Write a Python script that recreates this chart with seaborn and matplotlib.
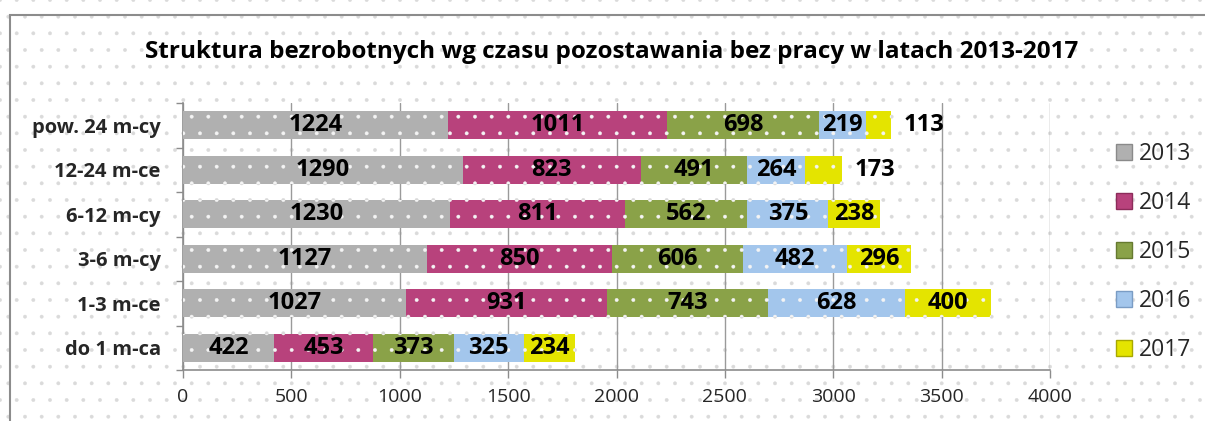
import numpy as np
import pandas as pd
import matplotlib
matplotlib.use("Agg")
import matplotlib.pyplot as plt
import seaborn as sns
from matplotlib.patches import Rectangle, Patch

# ---- data ----
title = "Struktura bezrobotnych wg czasu pozostawania bez pracy w latach 2013-2017"
categories = ["pow. 24 m-cy", "12-24 m-ce", "6-12 m-cy", "3-6 m-cy", "1-3 m-ce", "do 1 m-ca"]
years = ["2013", "2014", "2015", "2016", "2017"]
v2013 = [1224, 1290, 1230, 1127, 1027, 422]
v2014 = [1011, 823, 811, 850, 931, 453]
v2015 = [698, 491, 562, 606, 743, 373]
v2016 = [219, 264, 375, 482, 628, 325]
v2017 = [113, 173, 238, 296, 400, 234]
x_ticks = [0, 500, 1000, 1500, 2000, 2500, 3000, 3500, 4000]

series = [v2013, v2014, v2015, v2016, v2017]
colors = ["#b0b0b0", "#b8427c", "#8aa248", "#a3c6ec", "#e4e400"]
edge_colors = ["#8a8a8a", "#8c2c5a", "#667a30", "#7a9cc4", "#a8a800"]

sns.set_theme(style="white")
plt.rcParams["font.family"] = ["Open Sans", "DejaVu Sans"]
plt.rcParams["hatch.linewidth"] = 0.3

W, H = 1205, 421
fig = plt.figure(figsize=(W / 100, H / 100), dpi=100)

# dotted background
bg = Rectangle((0, 0), 1, 1, transform=fig.transFigure, facecolor="white",
               edgecolor="#dadada", linewidth=0, hatch=".", zorder=-10)
fig.patches.append(bg)
# outer frame
frame = Rectangle((10 / W, -0.2), 1.3, 1.2 - 15 / H, transform=fig.transFigure,
                  fill=False, edgecolor="#8c8c8c", linewidth=1.5, zorder=-5)
fig.patches.append(frame)

ax = fig.add_axes([183 / W, 1 - 370 / H, (1050 - 183) / W, (370 - 103) / H])
ax.set_facecolor("none")

left = np.zeros(len(categories))
for yr, vals, col in zip(years, series, colors):
    df = pd.DataFrame({"cat": categories, "val": vals})
    sns.barplot(data=df, x="val", y="cat", order=categories, orient="y",
                left=left.copy(), color=col, saturation=1, width=0.63,
                errorbar=None, ax=ax, zorder=3)
    left += np.array(vals)

for cont, ec in zip(ax.containers, edge_colors):
    for p in cont.patches:
        p.set_hatch(".")
        p.set_edgecolor("#f4f4f4")
        p.set_linewidth(0)

lab_kw = dict(fontsize=17, fontweight="bold", color="black")
for i, (cont, vals) in enumerate(zip(ax.containers, series)):
    inside = [str(v) if v >= 200 else "" for v in vals]
    outside = [str(v) if v < 200 else "" for v in vals]
    ax.bar_label(cont, labels=inside, label_type="center", **lab_kw)
    if any(outside):
        ax.bar_label(cont, labels=outside, label_type="edge", padding=9, **lab_kw)

ax.set_xlim(0, 4000)
ax.set_xticks(x_ticks)
ax.set_xticklabels([str(t) for t in x_ticks])
ax.set_ylim(5.5, -0.5)
ax.set_xlabel("")
ax.set_ylabel("")
ax.grid(axis="x", color="#9a9a9a", linewidth=1, zorder=0)
ax.grid(axis="y", visible=False)
ax.set_axisbelow(True)

for s in ["top", "right"]:
    ax.spines[s].set_visible(False)
for s in ["left", "bottom"]:
    ax.spines[s].set_color("#8c8c8c")
    ax.spines[s].set_linewidth(1.2)

ax.tick_params(axis="x", which="major", bottom=True, length=6, width=1,
               color="#8c8c8c", labelsize=14, pad=7)
ax.set_yticks(np.arange(-0.5, 6, 1), minor=True)
ax.tick_params(axis="y", which="minor", left=True, length=5, width=1, color="#8c8c8c")
ax.tick_params(axis="y", which="major", left=False, length=0, labelsize=14.5, pad=16)
for t in ax.get_yticklabels():
    t.set_fontweight("bold")

fig.text(612 / W, 1 - 52 / H, title, ha="center", va="center",
         fontsize=17.5, fontweight="bold", color="black")

handles = [Patch(facecolor=c, edgecolor=e, linewidth=1) for c, e in zip(colors, edge_colors)]
fig.legend(handles, years, loc="center left", bbox_to_anchor=(1116 / W, 1 - 252 / H),
           frameon=False, fontsize=16.5, handlelength=0.7, handleheight=0.7,
           labelspacing=1.1, handletextpad=0.3, borderaxespad=0, borderpad=0)

fig.savefig("out.png", dpi=100)
